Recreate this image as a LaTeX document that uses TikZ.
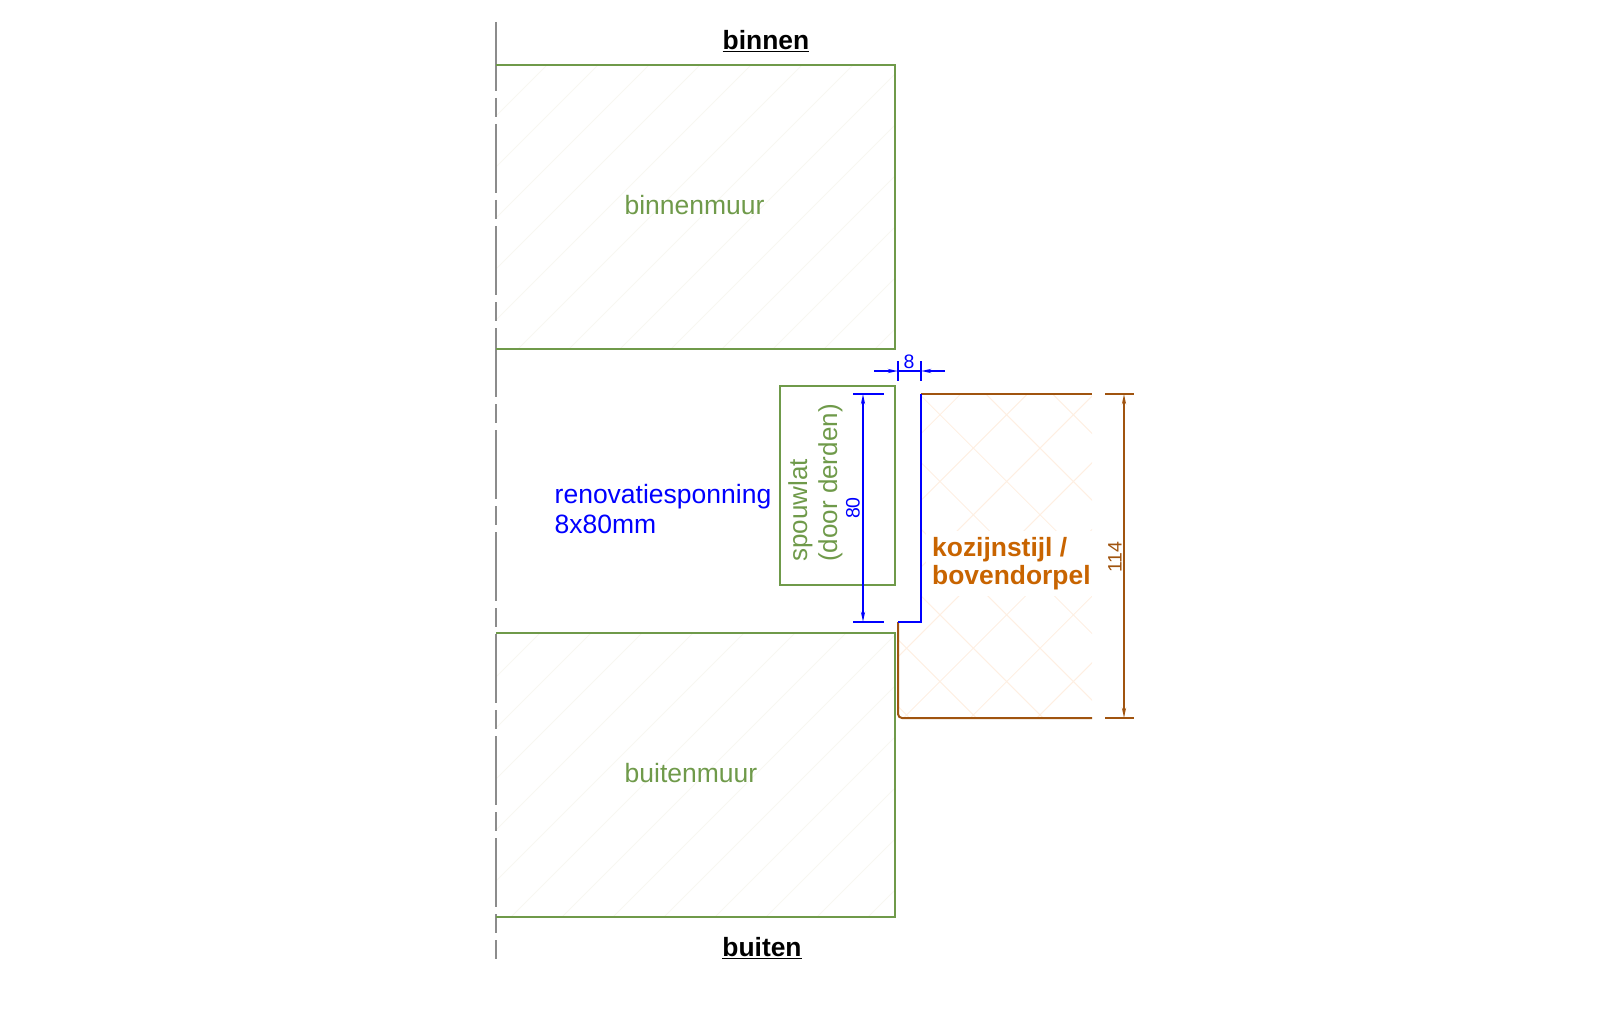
\documentclass[tikz,border=0pt]{standalone}
\usepackage{fontspec}
\setmainfont{Liberation Sans}
\usetikzlibrary{arrows.meta}
\definecolor{wallgreen}{HTML}{6F9A4A}
\definecolor{framebrown}{HTML}{A0540F}
\definecolor{frameorange}{HTML}{C86400}
\definecolor{axisgray}{HTML}{8C8C8C}
\definecolor{wallhatch}{HTML}{F8F7F1}
\definecolor{framehatch}{HTML}{FEEFE2}
\tikzset{
    wall/.style={minimum width=399pt, inner sep=0pt, outer sep=0pt},
    wallline/.style={wallgreen, line width=2pt},
    biglabel/.style={font=\fontsize{26.5}{30}\selectfont, inner sep=0pt},
    boldlabel/.style={font=\fontsize{26.4}{28.5}\selectfont\bfseries, inner sep=0pt},
    dimlabel/.style={font=\fontsize{19.5}{20}\selectfont, inner sep=0pt},
    dimtip/.style={-{Stealth[length=10pt,width=4pt]}},
    dimtips/.style={{Stealth[length=10pt,width=4pt]}-{Stealth[length=10pt,width=4pt]}}
}
\begin{document}
\begin{tikzpicture}[x=1pt, y=-1pt]
    \useasboundingbox (0,0) rectangle (1600,1032);

    % hatching
    \begin{scope}
        \clip (496,65) rectangle (895,349) (496,633) rectangle (895,916);
        \foreach \c in {0,...,25} {
            \draw [wallhatch, line width=1pt] (561+51*\c,0) -- +(-1900,1900);
        }
    \end{scope}
    \begin{scope}
        \clip (921,394) -- (1092,394) -- (1092,718) -- (898,718) -- (898,622) -- (921,622) -- cycle;
        \foreach \c in {0,...,10} {
            \draw [framehatch, line width=1pt] (125+66.7*\c,0) -- +(1000,1000);
        }
        \foreach \c in {0,...,8} {
            \draw [framehatch, line width=1pt] (1288+66.7*\c,0) -- +(-1900,1900);
        }
    \end{scope}

    % centre line
    \coordinate (axistop) at (496,22);
    \coordinate (axisbot) at (496,959);
    \draw [axisgray, line width=2pt, dash pattern=on 69pt off 7pt on 19pt off 7pt] (axistop) -- (axisbot);

    % walls
    \node [wall, anchor=north west, minimum height=284pt] (binnenmuur) at (496,65) {};
    \node [wall, anchor=north west, minimum height=283.5pt] (buitenmuur) at (496,633) {};
    \draw [wallline] (binnenmuur.north west) -- (binnenmuur.north east) -- (binnenmuur.south east) -- (binnenmuur.south west);
    \draw [wallline] (buitenmuur.north west) -- (buitenmuur.north east) -- (buitenmuur.south east) -- (buitenmuur.south west);
    \node [wall, draw=wallgreen, line width=2pt, anchor=north west, minimum width=115.5pt, minimum height=198.5pt] (spouwlat) at (779.5,386) {};

    % labels
    \node [boldlabel] (binnen) at (766,41) {\underline{binnen}};
    \node [boldlabel] (buiten) at (762,948) {\underline{buiten}};
    \node [biglabel, text=wallgreen] (binnenlabel) at (694.5,205) {binnenmuur};
    \node [biglabel, text=wallgreen] (buitenlabel) at (691,773.5) {buitenmuur};
    \node [biglabel, text=blue, align=left, anchor=west] (sponning) at (554.5,509) {renovatiesponning\\8x80mm};
    \node [biglabel, font=\fontsize{26}{30}\selectfont, text=wallgreen, align=left, rotate=90, anchor=west] (spouwlabel) at (815.5,562) {spouwlat\\(door derden)};
    \node [boldlabel, text=frameorange, align=left, anchor=west, fill=white, inner sep=6pt] (kozijn) at (926,563.5) {kozijnstijl /\\bovendorpel};

    % frame
    \coordinate (ftopr) at (1092,394);
    \coordinate (ftopl) at (921,394);
    \coordinate (fmidr) at (921,622);
    \coordinate (fmidl) at (898,622);
    \coordinate (fbotl) at (898,718);
    \coordinate (fbotr) at (1092,718);
    \draw [framebrown, line width=2pt] (ftopl) -- (ftopr);
    \draw [framebrown, line width=2pt, rounded corners=4pt] (fmidl) -- (fbotl) -- (fbotr);
    \draw [blue, line width=2pt, line join=miter] (ftopl) -- (fmidr) -- (fmidl);

    % dimension 8
    \coordinate (d8a) at (898,371);
    \coordinate (d8b) at (921,371);
    \coordinate (d8al) at (874,371);
    \coordinate (d8br) at (945,371);
    \draw [blue, line width=2pt] (898,361) -- (898,381);
    \draw [blue, line width=2pt] (921,361) -- (921,381);
    \draw [blue, line width=2pt] (d8a) -- (d8b);
    \draw [blue, line width=2pt, dimtip] (d8al) -- (d8a);
    \draw [blue, line width=2pt, dimtip] (d8br) -- (d8b);
    \node [dimlabel, text=blue] (d8) at (909,362) {8};

    % dimension 80
    \coordinate (d80a) at (863,394);
    \coordinate (d80b) at (863,622);
    \draw [blue, line width=2pt] (853,394) -- (884,394);
    \draw [blue, line width=2pt] (853,622) -- (884,622);
    \draw [blue, line width=2pt, dimtips] (d80a) -- (d80b);
    \node [dimlabel, text=blue, rotate=90] (d80) at (853,508) {80};

    % dimension 114
    \coordinate (d114a) at (1124,394);
    \coordinate (d114b) at (1124,718);
    \draw [framebrown, line width=2pt] (1105,394) -- (1134,394);
    \draw [framebrown, line width=2pt] (1105,718) -- (1134,718);
    \draw [framebrown, line width=2pt, dimtips] (d114a) -- (d114b);
    \node [dimlabel, text=framebrown, rotate=90] (d114) at (1115,557) {114};
\end{tikzpicture}
\end{document}
